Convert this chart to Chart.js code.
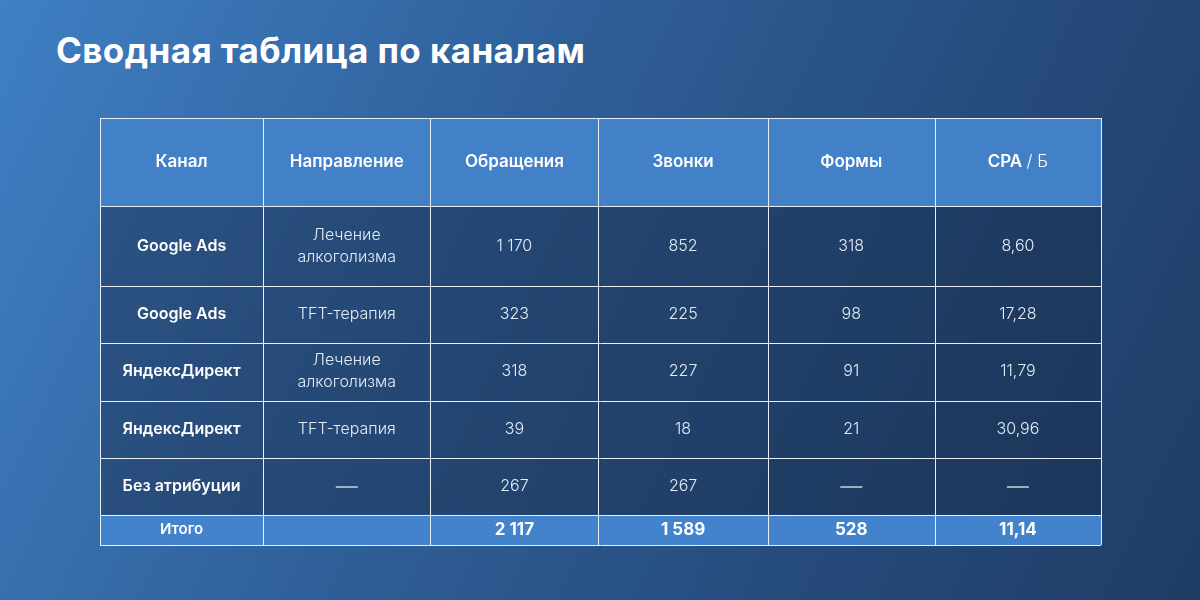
<!DOCTYPE html>
<html><head><meta charset="utf-8">
<script src="https://cdn.jsdelivr.net/npm/chart.js@4"></script>
<style>
html,body{margin:0;padding:0;width:1200px;height:600px;overflow:hidden;}
body{background:linear-gradient(115deg,#3f7fc4 0%,#2f5f98 40%,#264c7d 70%,#1f3c64 100%);font-family:Inter,sans-serif;}
h1{position:absolute;left:56px;top:29px;margin:0;color:#fff;font:700 35px Inter,sans-serif;letter-spacing:0.4px}
#wrap{position:absolute;left:0;top:0;width:1200px;height:600px}
</style></head><body>
<h1>Сводная таблица по каналам</h1>
<div id="wrap"><canvas id="c" width="1200" height="600"></canvas></div>
<script>
const headers=["Канал","Направление","Обращения","Звонки","Формы","CPA / Б"];
const channels=["Google Ads","Google Ads","ЯндексДирект","ЯндексДирект","Без атрибуции"];
const directions=["Лечение\nалкоголизма","TFT-терапия","Лечение\nалкоголизма","TFT-терапия","—"];
const requests=["1 170","323","318","39","267"];
const calls=["852","225","227","18","267"];
const forms=["318","98","91","21","—"];
const cpa=["8,60","17,28","11,79","30,96","—"];
const totals=["Итого","","2 117","1 589","528","11,14"];
// layout config (column edges and row edges, in table units)
const colEdges=[0,163,330,498,667,834,1000];
const rowEdges=[0,88,168,224,282,339,396,426];

const tablePlugin={id:'table',beforeDatasetsDraw(chart){
  const ctx=chart.ctx,xs=chart.scales.x,ys=chart.scales.y;
  const X=v=>xs.getPixelForValue(v),Y=v=>ys.getPixelForValue(v);
  const rows=[headers];
  for(let i=0;i<channels.length;i++)rows.push([channels[i],directions[i],requests[i],calls[i],forms[i],cpa[i]]);
  rows.push(totals);
  const n=rows.length;
  rows.forEach((r,ri)=>{
    const y0=Y(rowEdges[ri]),y1=Y(rowEdges[ri+1]);
    const hdr=ri===0,tot=ri===n-1;
    ctx.fillStyle=hdr?'#4281c8':tot?'#4383cb':'rgba(24,42,70,0.45)';
    ctx.fillRect(X(0),y0,X(1000)-X(0),y1-y0);
    r.forEach((t,ci)=>{
      const cx=(X(colEdges[ci])+X(colEdges[ci+1]))/2,cy=(y0+y1)/2;
      ctx.fillStyle=(hdr||tot||ci===0)?'#ffffff':'#e3ebf4';
      let w=hdr?'600 17px':ci===0?'600 16px':tot&&ci>0?'700 17px':'300 16px';
      if(tot&&ci===0)w='600 15px';
      ctx.font=w+' Inter, sans-serif';
      ctx.textAlign='center';ctx.textBaseline='middle';
      if(hdr&&t.includes(' / ')){
        const [a,b]=t.split(' / ');
        ctx.font='600 17px Inter, sans-serif';const wa=ctx.measureText(a+' ').width;
        ctx.font='300 17px Inter, sans-serif';const wb=ctx.measureText('/ '+b).width;
        const sx=cx-(wa+wb)/2;ctx.textAlign='left';
        ctx.font='600 17px Inter, sans-serif';ctx.fillText(a+' ',sx,cy);
        ctx.font='300 17px Inter, sans-serif';ctx.fillText('/ '+b,sx+wa,cy);
        return;
      }
      if(t==='—'){ctx.fillRect(cx-11,cy,22,1.3);return;}
      const lines=t.split('\n');
      lines.forEach((l,li)=>ctx.fillText(l,cx,cy+(li-(lines.length-1)/2)*22));
    });
  });
  ctx.strokeStyle='#e8eef6';ctx.lineWidth=1;ctx.beginPath();
  colEdges.forEach(c=>{const x=Math.round(X(c))+0.5;ctx.moveTo(x,Y(0));ctx.lineTo(x,Y(426));});
  rowEdges.forEach(r=>{const y=Math.round(Y(r))+0.5;ctx.moveTo(X(0),y);ctx.lineTo(X(1000),y);});
  ctx.stroke();
}};
new Chart(document.getElementById('c'),{type:'scatter',
 data:{datasets:[{data:[],pointRadius:0}]},
 options:{responsive:false,animation:false,events:[],
  layout:{padding:{left:100,right:99,top:118,bottom:55}},
  plugins:{legend:{display:false},tooltip:{enabled:false}},
  scales:{x:{type:'linear',min:0,max:1000,display:false},
          y:{type:'linear',min:0,max:426,reverse:true,display:false}}},
 plugins:[tablePlugin]});
</script></body></html>
